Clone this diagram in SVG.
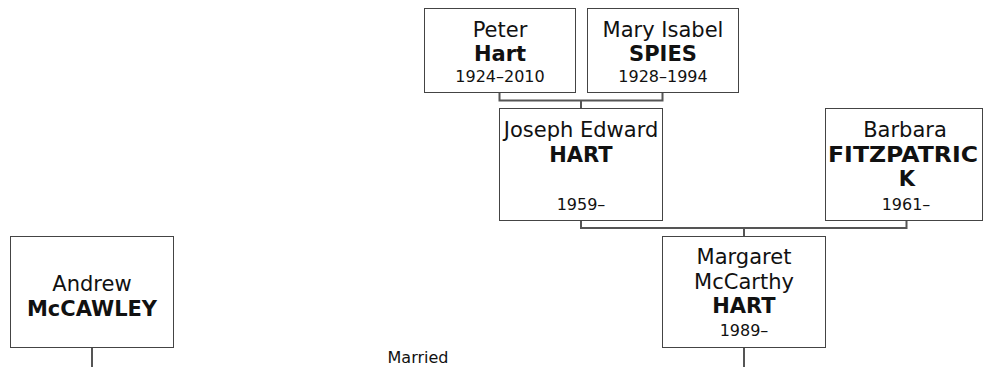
<svg xmlns="http://www.w3.org/2000/svg" width="983" height="367" viewBox="0 0 983 367">
<style>
.box{fill:#fff;stroke:#444;stroke-width:1}
.conn{fill:none;stroke:#555;stroke-width:2}
text{font-family:"DejaVu Sans","Verdana",sans-serif;fill:#111;text-anchor:middle}
.n{font-size:21px}
.b{font-size:21px;font-weight:bold}
.d{font-size:16px}
</style>
<rect width="983" height="367" fill="#fff"/>
<g id="connectors">
<path class="conn" d="M499.5 92.5 V100.5 H662.5 V92.5 M581 100.5 V108.5"/>
<path class="conn" d="M581 220.5 V228 H906.5 V220.5 M744 228 V236.5"/>
<path class="conn" d="M92 347.5 V367"/>
<path class="conn" d="M744 347.5 V367"/>
</g>
<g id="peter">
<rect class="box" x="424.5" y="8.5" width="151" height="84"/>
<text class="n" x="500" y="37">Peter</text>
<text class="b" x="500" y="61">Hart</text>
<text class="d" x="500" y="82">1924–2010</text>
</g>
<g id="mary">
<rect class="box" x="587.5" y="8.5" width="151" height="84"/>
<text class="n" x="663" y="37">Mary Isabel</text>
<text class="b" x="663" y="61">SPIES</text>
<text class="d" x="663" y="82">1928–1994</text>
</g>
<g id="joseph">
<rect class="box" x="499.5" y="108.5" width="163" height="112"/>
<text class="n" x="581" y="137">Joseph Edward</text>
<text class="b" x="581" y="162">HART</text>
<text class="d" x="581" y="210">1959–</text>
</g>
<g id="barbara">
<rect class="box" x="825.5" y="108.5" width="157" height="112"/>
<text class="n" x="905" y="137">Barbara</text>
<text class="b" x="903" y="162" textLength="150" lengthAdjust="spacingAndGlyphs">FITZPATRIC</text>
<text class="b" x="907" y="186">K</text>
<text class="d" x="906" y="210">1961–</text>
</g>
<g id="margaret">
<rect class="box" x="662.5" y="236.5" width="163" height="111"/>
<text class="n" x="744" y="264">Margaret</text>
<text class="n" x="744" y="289">McCarthy</text>
<text class="b" x="744" y="313">HART</text>
<text class="d" x="744" y="336">1989–</text>
</g>
<g id="andrew">
<rect class="box" x="10.5" y="236.5" width="163" height="111"/>
<text class="n" x="92" y="291">Andrew</text>
<text class="b" x="92" y="316">McCAWLEY</text>
</g>
<g id="label">
<text class="d" x="418" y="363">Married</text>
</g>
</svg>
